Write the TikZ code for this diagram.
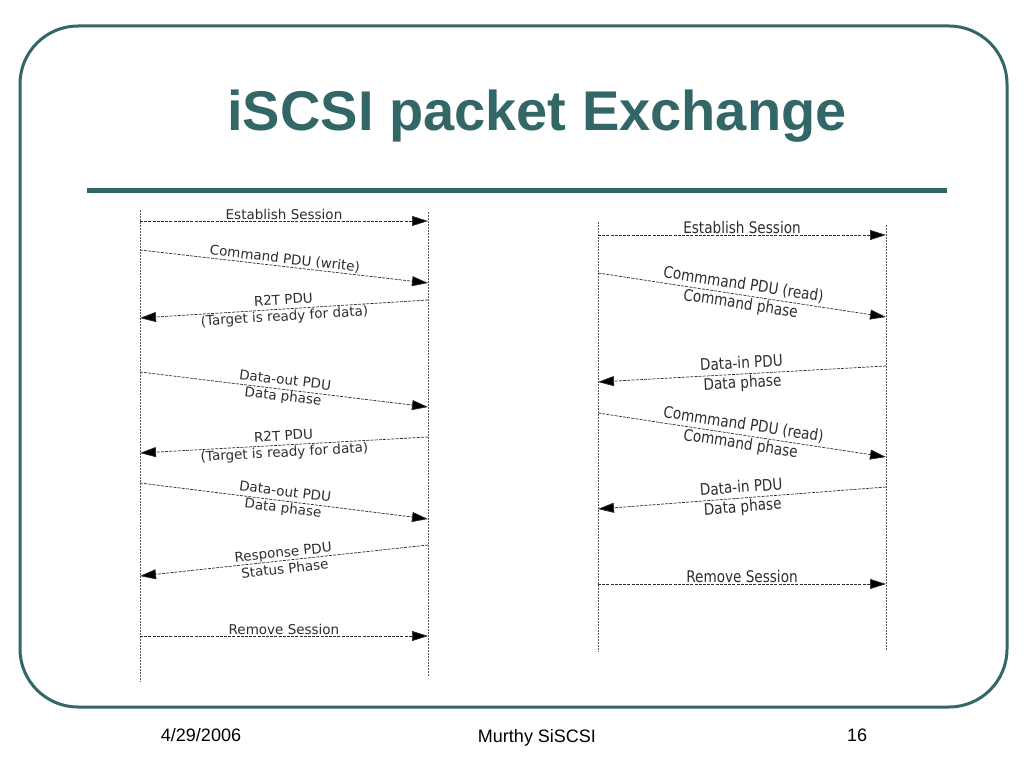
\documentclass[tikz,border=0pt]{standalone}
\usepackage{fontspec}
\setmainfont{Liberation Sans}
\newfontfamily\seqfont{DejaVu Sans}
\newfontfamily\seqfontc[FakeStretch=0.85]{DejaVu Sans}
\usetikzlibrary{arrows.meta}
\definecolor{slideteal}{RGB}{51,102,102}
\definecolor{seqgray}{RGB}{45,45,45}

\begin{document}
\begin{tikzpicture}[x=1pt,y=-1pt,
		life/.style={draw=seqgray!80, dash pattern=on 2pt off 1pt, line width=0.5pt},
		msg/.style={draw=seqgray, dash pattern=on 3pt off 1.2pt, line width=0.7pt,
			-{Triangle[length=16pt,width=10pt,fill=black]}},
		lbl/.style={font=\seqfont\fontsize{13.5}{16.5}\selectfont, text=seqgray,
			inner sep=1pt, align=center},
		lblc/.style={font=\seqfontc\fontsize{16}{19.5}\selectfont, text=seqgray,
			inner sep=1pt, align=center},
		foot/.style={font=\fontsize{18}{20}\selectfont, text=black}]
		\useasboundingbox (0,0) rectangle (1024,768);
		% slide frame and title
		\draw [slideteal, line width=3pt, rounded corners=58pt] (20,26) rectangle (1007,707);
		\node (title) [anchor=base, text=slideteal, font=\bfseries\fontsize{56}{60}\selectfont] at (537,130) {iSCSI packet Exchange};
		\draw [slideteal, line width=5pt] (87,190) -- (947,190);
		% left diagram: write
		\coordinate (la top) at (140,210);
		\coordinate (la bot) at (140,682);
		\coordinate (lb top) at (428,212);
		\coordinate (lb bot) at (428,676);
		\draw [life] (la top) -- (la bot);
		\draw [life] (lb top) -- (lb bot);
		\coordinate (la1) at (140,221);
		\coordinate (lb1) at (428,221);
		\coordinate (la2) at (140,250);
		\coordinate (lb2) at (428,283);
		\coordinate (lb3) at (428,300);
		\coordinate (la3) at (140,318);
		\coordinate (la4) at (140,372);
		\coordinate (lb4) at (428,407);
		\coordinate (lb5) at (428,437);
		\coordinate (la5) at (140,453);
		\coordinate (la6) at (140,483);
		\coordinate (lb6) at (428,519);
		\coordinate (lb7) at (428,545);
		\coordinate (la7) at (140,576);
		\coordinate (la8) at (140,636);
		\coordinate (lb8) at (428,636);
		\draw [msg] (la1) -- node [lbl, above] {Establish Session} (lb1);
		\draw [msg] (la2) -- node [lbl, above, sloped] {Command PDU (write)} (lb2);
		\draw [msg] (lb3) -- node [lbl, sloped] {R2T PDU\\(Target is ready for data)} (la3);
		\draw [msg] (la4) -- node [lbl, sloped] {Data-out PDU\\Data phase} (lb4);
		\draw [msg] (lb5) -- node [lbl, sloped] {R2T PDU\\(Target is ready for data)} (la5);
		\draw [msg] (la6) -- node [lbl, sloped] {Data-out PDU\\Data phase} (lb6);
		\draw [msg] (lb7) -- node [lbl, sloped] {Response PDU\\Status Phase} (la7);
		\draw [msg] (la8) -- node [lbl, above] {Remove Session} (lb8);
		% right diagram: read
		\coordinate (ra top) at (598,222);
		\coordinate (ra bot) at (598,652);
		\coordinate (rb top) at (886,225);
		\coordinate (rb bot) at (886,650);
		\draw [life] (ra top) -- (ra bot);
		\draw [life] (rb top) -- (rb bot);
		\coordinate (ra1) at (598,235);
		\coordinate (rb1) at (886,235);
		\coordinate (ra2) at (598,273);
		\coordinate (rb2) at (886,317);
		\coordinate (rb3) at (886,366);
		\coordinate (ra3) at (598,382);
		\coordinate (ra4) at (598,413);
		\coordinate (rb4) at (886,457);
		\coordinate (rb5) at (886,487);
		\coordinate (ra5) at (598,509);
		\coordinate (ra6) at (598,584);
		\coordinate (rb6) at (886,584);
		\draw [msg] (ra1) -- node [lblc, above] {Establish Session} (rb1);
		\draw [msg] (ra2) -- node [lblc, sloped] {Commmand PDU (read)\\Command phase} (rb2);
		\draw [msg] (rb3) -- node [lblc, sloped] {Data-in PDU\\Data phase} (ra3);
		\draw [msg] (ra4) -- node [lblc, sloped] {Commmand PDU (read)\\Command phase} (rb4);
		\draw [msg] (rb5) -- node [lblc, sloped] {Data-in PDU\\Data phase} (ra5);
		\draw [msg] (ra6) -- node [lblc, above] {Remove Session} (rb6);
		% footer
		\node (date) [foot] at (201,735) {4/29/2006};
		\node (author) [foot] at (537,738) {Murthy SiSCSI};
		\node (page) [foot] at (857,735) {16};
	\end{tikzpicture}
\end{document}
